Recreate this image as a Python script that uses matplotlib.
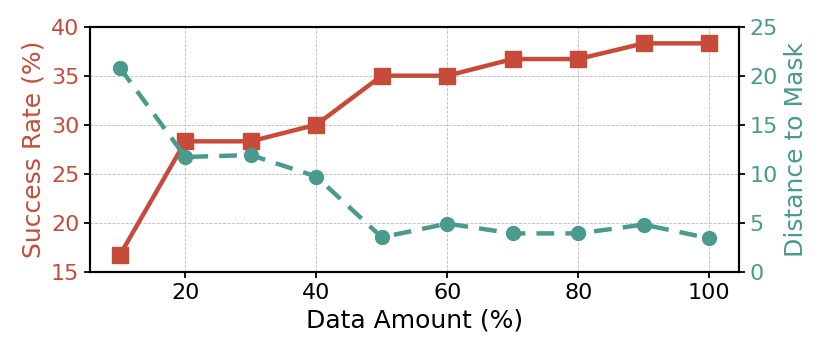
import matplotlib
matplotlib.use("Agg")
import matplotlib.pyplot as plt

# data
data_amount = [10, 20, 30, 40, 50, 60, 70, 80, 90, 100]
success_rate = [16.7, 28.3, 28.3, 30.0, 35.0, 35.0, 36.7, 36.7, 38.3, 38.3]
dist_to_mask = [20.8, 11.7, 11.9, 9.7, 3.5, 4.9, 3.9, 3.9, 4.8, 3.4]

red = '#C84B3A'
teal = '#4A9A8E'

fig, ax1 = plt.subplots(figsize=(8.3, 3.56), dpi=100)
fig.subplots_adjust(left=0.109, right=0.890, top=0.925, bottom=0.237)

ax1.plot(data_amount, success_rate, '-s', color=red, linewidth=3.2,
         markersize=11, zorder=3)
ax1.set_ylim(15, 40)
ax1.set_yticks([15, 20, 25, 30, 35, 40])
ax1.set_xlabel('Data Amount (%)', fontsize=18)
ax1.set_ylabel('Success Rate (%)', fontsize=18, color=red)
ax1.tick_params(axis='y', labelcolor=red, labelsize=16, length=4.5, width=1.3)
ax1.tick_params(axis='x', labelsize=16, length=4.5, width=1.3)
ax1.set_xticks([20, 40, 60, 80, 100])
ax1.grid(True, linestyle='--', linewidth=0.6, color='#bbbbbb')

ax2 = ax1.twinx()
ax2.plot(data_amount, dist_to_mask, '--o', color=teal, linewidth=3.2,
         markersize=10, dashes=(4, 2.5), zorder=3)
ax2.set_ylim(0, 25)
ax2.set_yticks([0, 5, 10, 15, 20, 25])
ax2.set_ylabel('Distance to Mask', fontsize=18, color=teal)
ax2.tick_params(axis='y', labelcolor=teal, labelsize=16, length=4.5, width=1.3)

for ax in (ax1, ax2):
    for sp in ax.spines.values():
        sp.set_linewidth(1.5)

fig.savefig('out.png')
